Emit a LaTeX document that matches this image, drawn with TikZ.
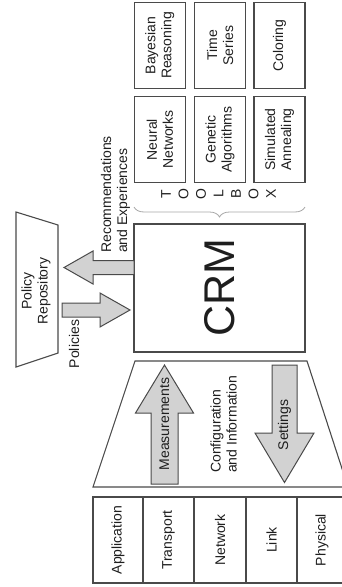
\documentclass[tikz,border=0pt]{standalone}
\usepackage{fontspec}
\setmainfont{Liberation Sans}
\usetikzlibrary{decorations.pathreplacing}
\definecolor{edge}{HTML}{4A4A4A}
\definecolor{ink}{HTML}{1E1E1E}
\definecolor{arrowfill}{HTML}{D2D2D2}
\begin{document}
\begin{tikzpicture}[x=1pt,y=-1pt,
  txt/.style={font=\fontsize{14}{16}\selectfont, text=ink, inner sep=0pt},
  vtxt/.style={txt, rotate=90, align=center},
  box/.style={draw=edge, line width=1.1pt, rotate=90, align=center,
    font=\fontsize{14}{16}\selectfont, text=ink, inner sep=0pt},
  blockarrow/.style={draw=edge, fill=arrowfill, line width=1pt, line join=miter},
  outline/.style={draw=edge, line width=1.1pt}]
\useasboundingbox (0,0) rectangle (342,587);
\clip (0,0) rectangle (342,587);

% tool boxes (two rows of three)
\node[box, minimum width=85.6pt, minimum height=51pt] (bay)  at (159.8,45.5)  {Bayesian\\Reasoning};
\node[box, minimum width=85.6pt, minimum height=51pt] (ts)   at (220,45.5)    {Time\\Series};
\node[box, minimum width=85.6pt, minimum height=51pt] (col)  at (279.5,45.5)  {Coloring};
\node[box, minimum width=85.6pt, minimum height=51pt] (nn)   at (159.8,139.5) {Neural\\Networks};
\node[box, minimum width=85.6pt, minimum height=51pt] (ga)   at (220,139.5)   {Genetic\\Algorithms};
\node[box, minimum width=85.6pt, minimum height=51pt] (sa)   at (279.5,139.5) {Simulated\\Annealing};

% TOOLBOX label, one letter per position
\foreach \l [count=\i from 0] in {T,O,O,L,B,O,X}
  \node[vtxt] (tb\i) at ({166+17.5*\i},194) {\l};

% brace gathering the tools
\coordinate (braceR) at (305,207);
\coordinate (braceL) at (134,207);
\draw[draw=gray!70, line width=0.8pt, decorate, decoration={brace, amplitude=10pt}] (braceR) -- (braceL);

% central manager
\node[outline, minimum width=171pt, minimum height=128pt, inner sep=0pt] (crm) at (219.5,288) {};
\node[txt, rotate=90, font=\fontsize{43}{43}\selectfont] (crmlabel) at (crm.center) {CRM};

% policy repository
\draw[outline] (16,212) -- (58,225) -- (58,353) -- (16,367) -- cycle;
\node[vtxt] (repo) at (36,291) {Policy\\Repository};

% exchange with the repository
\draw[blockarrow] (134,260.5) -- (93,260.5) -- (93,251) -- (64,267.5) -- (93,284) -- (93,274.5) -- (134,274.5) -- cycle;
\draw[blockarrow] (62,303) -- (100,303) -- (100,293) -- (130,310) -- (100,327) -- (100,317) -- (62,317) -- cycle;
\node[txt, rotate=90, align=left, anchor=west] (recs) at (115.5,253) {Recommendations\\and Experiences};
\node[vtxt] (pol) at (74,344) {Policies};

% interface towards the protocol stack
\draw[outline] (135,361) -- (307,361) -- (348,487) -- (93,487) -- cycle;
\draw[blockarrow] (151,484) -- (151,413) -- (135.5,413) -- (164.5,365) -- (193.5,413) -- (178,413) -- (178,484) -- cycle;
\draw[blockarrow] (272,365) -- (297,365) -- (297,433) -- (314,433) -- (284.5,482.5) -- (255,433) -- (272,433) -- cycle;
\node[vtxt] (meas) at (164.5,424) {Measurements};
\node[vtxt] (sett) at (284.5,425) {Settings};
\node[txt, rotate=90, align=left, anchor=west] (conf) at (223.5,473) {Configuration\\and Information};

% protocol stack layers
\node[box, minimum width=86pt, minimum height=50pt] (app)  at (118,540)   {Application};
\node[box, minimum width=86pt, minimum height=51pt] (tra)  at (168.5,540) {Transport};
\node[box, minimum width=86pt, minimum height=52pt] (net)  at (220,540)   {Network};
\node[box, minimum width=86pt, minimum height=51pt] (lnk)  at (271.5,540) {Link};
\node[box, minimum width=86pt, minimum height=50pt] (phy)  at (322,540)   {Physical};
\end{tikzpicture}
\end{document}
